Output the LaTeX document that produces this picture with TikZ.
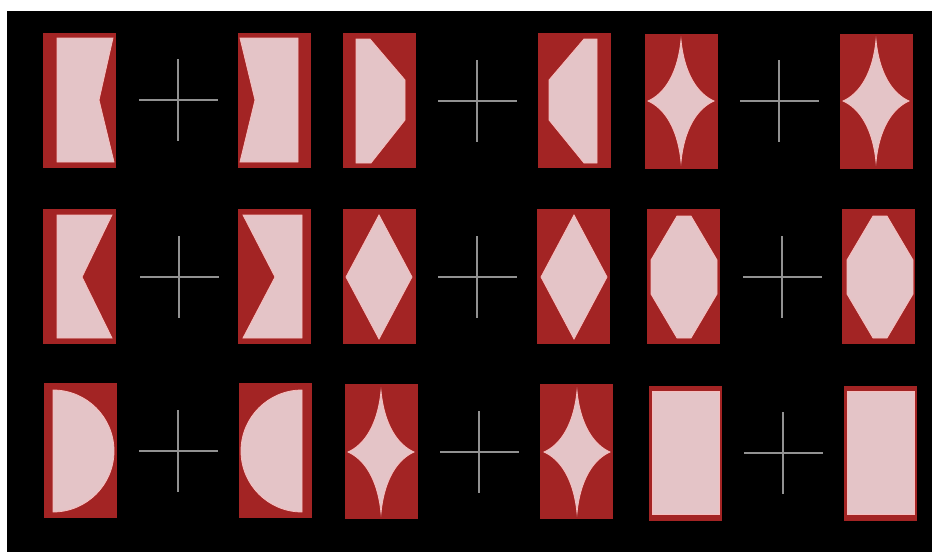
\documentclass[tikz,border=0pt]{standalone}
\definecolor{cardred}{RGB}{163,36,36}
\definecolor{cardpink}{RGB}{228,196,199}
\definecolor{pinkedge}{RGB}{246,190,190}
\definecolor{crossgray}{RGB}{145,145,145}
\tikzset{
  cardbox/.style={fill=cardred},
  inner/.style={fill=cardpink, draw=pinkedge, line width=0.8pt, line join=miter},
  crossline/.style={draw=crossgray, line width=1.4pt}
}
% card background: left x, top y
\newcommand{\cardbg}[2]{\fill[cardbox] (#1,#2) rectangle ++(73,135);}
\newcommand{\crossmark}[2]{%
  \draw[crossline] ({#1-39},#2) -- ({#1+40},#2);
  \draw[crossline] (#1,{#2-41}) -- (#1,{#2+41});}
\newcommand{\starshape}[4]{% cx cy halfw halfh
  \filldraw[inner] (#1,{#2-#4})
    .. controls ({#1+0.1*#3},{#2-0.45*#4}) and ({#1+0.5*#3},{#2-0.12*#4}) .. ({#1+#3},#2)
    .. controls ({#1+0.5*#3},{#2+0.12*#4}) and ({#1+0.1*#3},{#2+0.45*#4}) .. (#1,{#2+#4})
    .. controls ({#1-0.1*#3},{#2+0.45*#4}) and ({#1-0.5*#3},{#2+0.12*#4}) .. ({#1-#3},#2)
    .. controls ({#1-0.5*#3},{#2-0.12*#4}) and ({#1-0.1*#3},{#2-0.45*#4}) .. cycle;}
\newcommand{\octshape}[2]{% cx cy
  \filldraw[inner] ({#1-7},{#2-61}) -- ({#1+7},{#2-61}) -- ({#1+33},{#2-17}) -- ({#1+33},{#2+17})
    -- ({#1+7},{#2+61}) -- ({#1-7},{#2+61}) -- ({#1-33},{#2+17}) -- ({#1-33},{#2-17}) -- cycle;}
\newcommand{\diamshape}[2]{% cx cy
  \filldraw[inner] (#1,{#2-62}) -- ({#1+33},#2) -- (#1,{#2+62}) -- ({#1-33},#2) -- cycle;}
\begin{document}
\begin{tikzpicture}[x=1pt,y=-1pt]
\useasboundingbox (0,0) rectangle (932,552);
\fill[white] (0,0) rectangle (932,552);
\fill[black] (7,11) rectangle (932,552);

% ---------- Row 1 ----------
\cardbg{43}{33}
\filldraw[inner] (57,38) -- (113,38) -- (99,100) -- (114,162) -- (57,162) -- cycle;
\crossmark{178}{100}
\cardbg{238}{33}
\filldraw[inner] (240,38) -- (298,38) -- (298,162) -- (240,162) -- (255,100) -- cycle;

\cardbg{343}{33}
\filldraw[inner] (356,39) -- (370,39) -- (405,80) -- (405,120) -- (371,163) -- (356,163) -- cycle;
\crossmark{477}{101}
\cardbg{538}{33}
\filldraw[inner] (597,39) -- (584,39) -- (549,80) -- (549,120) -- (584,163) -- (597,163) -- cycle;

\cardbg{645}{34}
\starshape{681}{101}{33}{61}
\crossmark{779}{101}
\cardbg{840}{34}
\starshape{876}{101}{33}{61}

% ---------- Row 2 ----------
\cardbg{43}{209}
\filldraw[inner] (57,215) -- (112,215) -- (82,277) -- (112,338) -- (57,338) -- cycle;
\crossmark{179}{277}
\cardbg{238}{209}
\filldraw[inner] (243,215) -- (302,215) -- (302,338) -- (243,338) -- (275,277) -- cycle;

\cardbg{343}{209}
\diamshape{379}{277}
\crossmark{477}{277}
\cardbg{537}{209}
\diamshape{574}{277}

\cardbg{647}{209}
\octshape{684}{277}
\crossmark{782}{277}
\cardbg{842}{209}
\octshape{880}{277}

% ---------- Row 3 ----------
\cardbg{44}{383}
\filldraw[inner] (53,390) arc[start angle=-90, end angle=90, radius=61] -- cycle;
\crossmark{178}{451}
\cardbg{239}{383}
\filldraw[inner] (302,390) arc[start angle=-90, end angle=-270, radius=61] -- cycle;

\cardbg{345}{384}
\starshape{381}{452}{33}{61}
\crossmark{479}{452}
\cardbg{540}{384}
\starshape{577}{452}{33}{61}

\cardbg{649}{386}
\filldraw[inner] (652,391) rectangle (719,514);
\crossmark{783}{453}
\cardbg{844}{386}
\filldraw[inner] (847,391) rectangle (914,514);
\end{tikzpicture}
\end{document}
